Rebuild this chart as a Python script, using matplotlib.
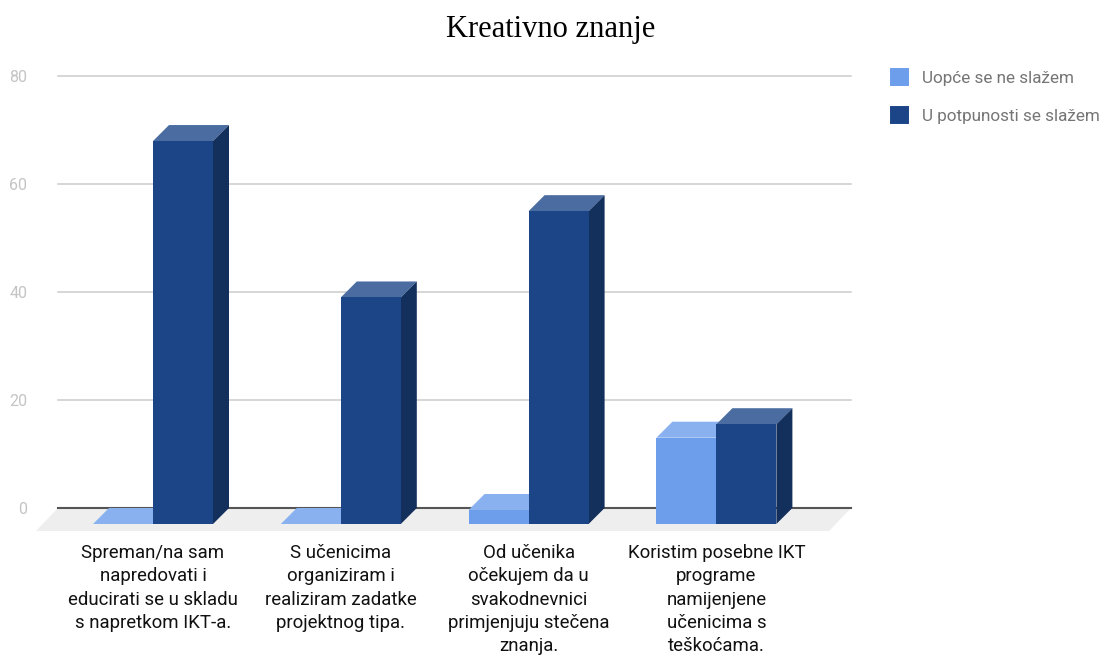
import matplotlib
matplotlib.use('Agg')
import matplotlib.pyplot as plt
from matplotlib.patches import Polygon, Patch

categories = ['Spreman/na sam\nnapredovati i\neducirati se u skladu\ns napretkom IKT-a.',
              'S učenicima\norganiziram i\nrealiziram zadatke\nprojektnog tipa.',
              'Od učenika\nočekujem da u\nsvakodnevnici\nprimjenjuju stečena\nznanja.',
              'Koristim posebne IKT\nprograme\nnamijenjene\nučenicima s\nteškoćama.']
series_names = ['Uopće se ne slažem', 'U potpunosti se slažem']
low_values = [0, 0, 2.6, 16]
high_values = [71, 42, 58, 18.5]
y_ticks = [0, 20, 40, 60, 80]

LOW_COLORS = ('#6d9eeb', '#8ab1ef', '#4f78b3')    # front, top, side
HIGH_COLORS = ('#1c4587', '#4a6ca1', '#132f5b')

plt.rcParams['font.family'] = ['Roboto', 'DejaVu Sans']

W, H = 1100, 655
fig = plt.figure(figsize=(W / 100, H / 100), dpi=100)
ax = fig.add_axes([58 / W, (H - 508) / H, 793 / W, 431.5 / H])

px_x = 187.8        # pixels per category
px_y = 431.5 / 80   # pixels per unit
ax.set_xlim(-95 / px_x, 698 / px_x)
ax.set_ylim(0, 80)

bar_w = 60 / px_x
dx = 16 / px_x      # depth of the bars
dy = 16 / px_y


def bar3d(x0, x1, val, colors):
    # front face sits lower left of the back wall
    base = -dy
    top = base + val
    ax.add_patch(Polygon([(x0, top), (x0 + dx, top + dy), (x1 + dx, top + dy), (x1, top)],
                         fc=colors[1], ec='none', zorder=3, clip_on=False))
    ax.add_patch(Polygon([(x1, base), (x1 + dx, base + dy), (x1 + dx, top + dy), (x1, top)],
                         fc=colors[2], ec='none', zorder=3, clip_on=False))
    if val > 0:
        ax.add_patch(Polygon([(x0, base), (x1, base), (x1, top), (x0, top)],
                             fc=colors[0], ec='none', zorder=3, clip_on=False))


# floor under the bars
x_a, x_b = ax.get_xlim()
floor_dx = 22 / px_x
floor_dy = 23 / px_y
ax.add_patch(Polygon([(x_a, 0), (x_b, 0), (x_b - floor_dx, -floor_dy), (x_a - floor_dx, -floor_dy)],
                     fc='#eeeeee', ec='none', zorder=1, clip_on=False))

for i in range(len(categories)):
    bar3d(i - bar_w, i, low_values[i], LOW_COLORS)
    bar3d(i, i + bar_w, high_values[i], HIGH_COLORS)

ax.set_yticks(y_ticks)
ax.set_xticks(range(len(categories)))
ax.set_xticklabels(categories, fontsize=13.4, color='#111111', linespacing=1.38, va='top')
ax.tick_params(axis='x', length=0, pad=26)
ax.tick_params(axis='y', length=0, pad=22, labelsize=11.5, labelcolor='#c4c4c4')
ax.grid(axis='y', color='#cccccc', linewidth=1.1, zorder=0, clip_on=False)
ax.set_axisbelow(True)
for s in ['top', 'left', 'right']:
    ax.spines[s].set_visible(False)
ax.spines['bottom'].set_color('#555555')
ax.spines['bottom'].set_linewidth(1.5)
ax.spines['bottom'].set_zorder(2)

fig.text(551 / W, 1 - 29 / H, 'Kreativno znanje', family='Liberation Serif', fontsize=22,
         color='#000000', ha='center', va='center')

handles = [Patch(fc=LOW_COLORS[0], ec=LOW_COLORS[0], lw=1.4, joinstyle='round', label=series_names[0]),
           Patch(fc=HIGH_COLORS[0], ec=HIGH_COLORS[0], lw=1.4, joinstyle='round', label=series_names[1])]
leg = fig.legend(handles=handles, loc='upper left', bbox_to_anchor=(891 / W, 1 - 69 / H),
                 frameon=False, fontsize=12.3, labelcolor='#757575', borderpad=0, borderaxespad=0,
                 handlelength=1.0, handleheight=1.1, handletextpad=0.8, labelspacing=1.2)

fig.savefig('out.png', dpi=100)
